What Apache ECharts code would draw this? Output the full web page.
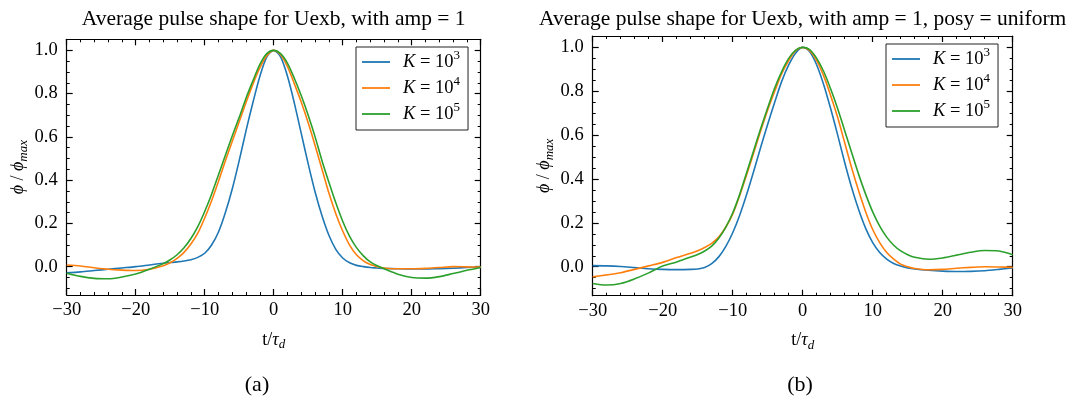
<!DOCTYPE html>
<html>
<head>
<meta charset="utf-8">
<script src="https://cdn.jsdelivr.net/npm/echarts@6/dist/echarts.min.js"></script>
<style>
html,body{margin:0;padding:0;background:#fff;}
#chart{width:1079px;height:399px;}
</style>
</head>
<body>
<div id="chart"></div>
<script>
// ---- data ----
const tValues = [-30,-28,-26,-24,-22,-20,-18,-16,-15,-14,-13,-12,-11,-10,-9,-8,-7,-6,-5,-4,-3,-2,-1,0,1,2,3,4,5,6,7,8,9,10,11,12,13,14,15,16,18,20,22,24,26,28,30];

const seriesNames = ['K = 10^3', 'K = 10^4', 'K = 10^5'];

// panel (a)
const a_K3 = [-0.028,-0.024,-0.018,-0.012,-0.006,0.0,0.008,0.016,0.019,0.022,0.026,0.032,0.043,0.062,0.1,0.16,0.25,0.36,0.49,0.63,0.76,0.88,0.97,1.0,0.97,0.88,0.755,0.615,0.475,0.345,0.235,0.145,0.08,0.04,0.018,0.006,0.0,-0.004,-0.006,-0.008,-0.01,-0.011,-0.011,-0.009,-0.007,-0.004,-0.002];
const a_K4 = [0.008,0.003,-0.005,-0.012,-0.016,-0.018,-0.012,0.004,0.018,0.038,0.066,0.105,0.155,0.225,0.305,0.395,0.49,0.58,0.67,0.76,0.845,0.92,0.975,1.0,0.98,0.925,0.845,0.76,0.665,0.56,0.45,0.34,0.245,0.165,0.1,0.055,0.027,0.01,0.0,-0.006,-0.01,-0.01,-0.008,-0.004,0.0,-0.001,-0.002];
const a_K5 = [-0.03,-0.045,-0.054,-0.056,-0.048,-0.034,-0.012,0.014,0.032,0.055,0.087,0.13,0.185,0.255,0.335,0.425,0.515,0.605,0.69,0.78,0.86,0.935,0.985,1.0,0.985,0.94,0.87,0.79,0.7,0.6,0.49,0.39,0.295,0.21,0.14,0.088,0.05,0.022,0.004,-0.01,-0.035,-0.05,-0.053,-0.046,-0.032,-0.017,-0.004];

// panel (b)
const b_K3 = [0.005,0.004,0.001,-0.004,-0.009,-0.012,-0.013,-0.012,-0.01,-0.003,0.014,0.045,0.092,0.155,0.235,0.33,0.435,0.545,0.65,0.75,0.845,0.92,0.975,1.0,0.98,0.92,0.83,0.72,0.6,0.475,0.36,0.26,0.175,0.11,0.065,0.035,0.015,0.003,-0.005,-0.01,-0.016,-0.02,-0.022,-0.021,-0.018,-0.012,-0.005];
const b_K4 = [-0.046,-0.037,-0.027,-0.012,0.004,0.02,0.042,0.062,0.073,0.088,0.107,0.135,0.18,0.24,0.325,0.42,0.52,0.62,0.715,0.8,0.88,0.94,0.985,1.0,0.985,0.94,0.87,0.78,0.68,0.565,0.45,0.345,0.25,0.17,0.11,0.065,0.035,0.012,0.0,-0.008,-0.014,-0.012,-0.007,-0.003,0.0,-0.001,-0.003];
const b_K5 = [-0.076,-0.083,-0.076,-0.055,-0.028,0.003,0.022,0.044,0.056,0.072,0.094,0.13,0.18,0.245,0.33,0.43,0.53,0.63,0.725,0.815,0.89,0.95,0.988,1.0,0.99,0.95,0.89,0.81,0.72,0.62,0.52,0.42,0.33,0.25,0.185,0.135,0.098,0.072,0.055,0.043,0.034,0.04,0.053,0.066,0.074,0.072,0.055];

// tick values
const yMajorTicks = [0, 0.2, 0.4, 0.6, 0.8, 1.0];
const yMinorTicks = [-0.1,-0.05,0.05,0.1,0.15,0.25,0.3,0.35,0.45,0.5,0.55,0.65,0.7,0.75,0.85,0.9,0.95];

const titles = ['Average pulse shape for Uexb, with amp = 1', 'Average pulse shape for Uexb, with amp = 1, posy = uniform'];
const captions = ['(a)', '(b)'];

// ---- styling ----
const FONT = 'Liberation Serif';
const COLORS = ['#1f77b4', '#ff7f0e', '#2ca02c'];
const grids = [
  {left: 66.7, top: 39.3, width: 414, height: 255.7, ymin: -0.131, ymax: 1.051, legendLeft: 356, legendTop: 47, titleX: 273.7, capX: 257},
  {left: 592.7, top: 36, width: 420, height: 259.7, ymin: -0.132, ymax: 1.052, legendLeft: 886, legendTop: 44, titleX: 802.7, capX: 800}
];

const chart = echarts.init(document.getElementById('chart'), null, {renderer: 'canvas'});

const axisLineStyle = {color: '#000', width: 1.2};
const xAxes = [], yAxes = [], series = [], legends = [], graphics = [];

grids.forEach((g, gi) => {
  const xBase = {
    type: 'value', gridIndex: gi, min: -30, max: 30, interval: 10,
    splitLine: {show: false}, minorSplitLine: {show: false},
    axisLine: {show: true, onZero: false, lineStyle: axisLineStyle},
    axisTick: {show: true, inside: true, length: 6, lineStyle: axisLineStyle},
    minorTick: {show: true, splitNumber: 5, length: 3, lineStyle: {color: '#000', width: 1}}
  };
  xAxes.push(Object.assign({}, xBase, {
    position: 'bottom',
    axisLabel: {show: true, margin: 6, color: '#000', fontFamily: FONT, fontSize: 18.5,
      formatter: v => (v < 0 ? '\u2212' : '') + Math.abs(v)},
    name: 't/{i|\u03c4}{sub|d}', nameLocation: 'middle', nameGap: 34,
    nameTextStyle: {color: '#000', fontFamily: FONT, fontSize: 18, lineHeight: 22,
      rich: {i: {fontStyle: 'italic', fontFamily: FONT, fontSize: 18, lineHeight: 22},
             sub: {fontStyle: 'italic', fontFamily: FONT, fontSize: 13, lineHeight: 12, verticalAlign: 'bottom'}}}
  }));
  xAxes.push(Object.assign({}, xBase, {position: 'top', axisLabel: {show: false}}));

  const yBase = {
    type: 'value', gridIndex: gi, min: g.ymin, max: g.ymax,
    splitLine: {show: false}, minorTick: {show: false}
  };
  yAxes.push(Object.assign({}, yBase, {
    position: 'left',
    axisLine: {show: true, onZero: false, lineStyle: axisLineStyle},
    axisTick: {show: true, inside: true, length: 6, lineStyle: axisLineStyle, customValues: yMajorTicks},
    axisLabel: {show: true, margin: 9, color: '#000', fontFamily: FONT, fontSize: 18.5,
      customValues: yMajorTicks, formatter: v => v.toFixed(1)},
    name: '{i|\u03d5} / {i|\u03d5}{sub|max}', nameLocation: 'middle', nameGap: 37, nameRotate: 90,
    nameTextStyle: {color: '#000', fontFamily: FONT, fontSize: 18, lineHeight: 22,
      rich: {i: {fontStyle: 'italic', fontFamily: FONT, fontSize: 18, lineHeight: 22},
             sub: {fontStyle: 'italic', fontFamily: FONT, fontSize: 13, lineHeight: 12, verticalAlign: 'bottom'}}}
  }));
  yAxes.push(Object.assign({}, yBase, {
    position: 'left', axisLine: {show: false, onZero: false},
    axisTick: {show: true, inside: true, length: 3, lineStyle: {color: '#000', width: 1}, customValues: yMinorTicks},
    axisLabel: {show: false}
  }));
  yAxes.push(Object.assign({}, yBase, {
    position: 'right',
    axisLine: {show: true, onZero: false, lineStyle: axisLineStyle},
    axisTick: {show: true, inside: true, length: 6, lineStyle: axisLineStyle, customValues: yMajorTicks},
    axisLabel: {show: false}
  }));
  yAxes.push(Object.assign({}, yBase, {
    position: 'right', axisLine: {show: false, onZero: false},
    axisTick: {show: true, inside: true, length: 3, lineStyle: {color: '#000', width: 1}, customValues: yMinorTicks},
    axisLabel: {show: false}
  }));

  const arrs = gi === 0 ? [a_K3, a_K4, a_K5] : [b_K3, b_K4, b_K5];
  arrs.forEach((arr, si) => {
    series.push({
      type: 'line', name: seriesNames[si], xAxisIndex: gi * 2, yAxisIndex: gi * 4,
      data: tValues.map((t, i) => [t, arr[i]]),
      symbol: 'none', showSymbol: false, smooth: 0.3, clip: true,
      lineStyle: {width: 1.6, color: COLORS[si]}, itemStyle: {color: COLORS[si]},
      z: 3 + si
    });
  });

  legends.push({
    orient: 'vertical', left: g.legendLeft, top: g.legendTop,
    data: seriesNames, selectedMode: false,
    icon: 'rect', itemWidth: 28, itemHeight: 1.8, itemGap: 0,
    padding: [2, 8, 3, 6],
    borderColor: '#222', borderWidth: 1, borderRadius: 0, backgroundColor: '#fff',
    formatter: name => '{sp|}{i|K} = 10{sup|' + name.slice(-1) + '}',
    textStyle: {color: '#000', fontFamily: FONT, fontSize: 18.5, lineHeight: 26,
      rich: {sp: {width: 8}, i: {fontStyle: 'italic', fontFamily: FONT, fontSize: 18.5, lineHeight: 26},
             sup: {fontFamily: FONT, fontSize: 13, lineHeight: 14, verticalAlign: 'top'}}}
  });

  graphics.push({type: 'text', x: g.titleX, y: 19, style: {text: titles[gi], font: '21.5px "' + FONT + '"', fill: '#000', textAlign: 'center', textVerticalAlign: 'middle'}});
  graphics.push({type: 'text', x: g.capX, y: 385, style: {text: captions[gi], font: '22px "' + FONT + '"', fill: '#000', textAlign: 'center', textVerticalAlign: 'middle'}});
});

chart.setOption({
  animation: false,
  backgroundColor: '#fff',
  grid: grids.map(g => ({left: g.left, top: g.top, width: g.width, height: g.height, containLabel: false, outerBoundsMode: 'none'})),
  xAxis: xAxes,
  yAxis: yAxes,
  legend: legends,
  series: series,
  graphic: graphics
});
</script>
</body>
</html>
